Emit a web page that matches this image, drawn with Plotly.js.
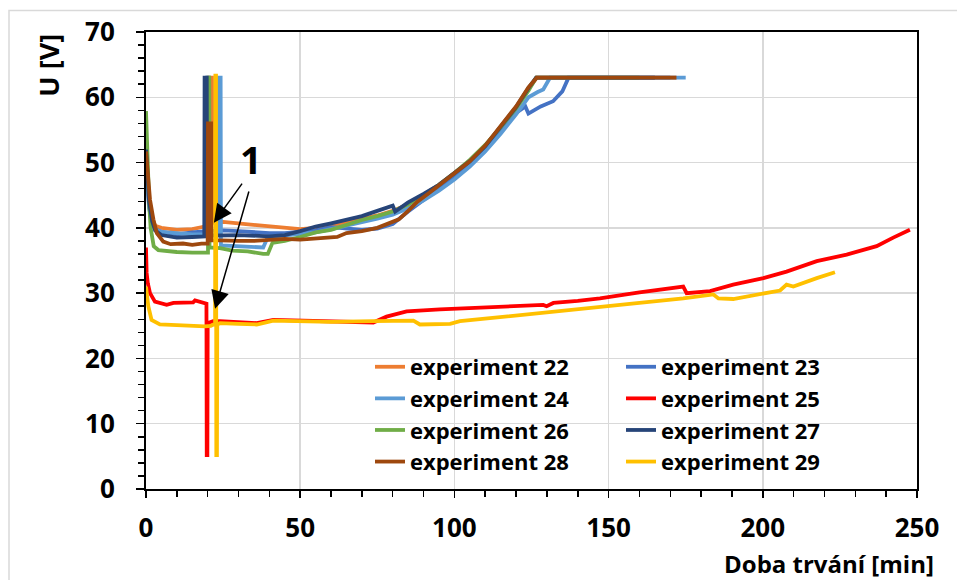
<!DOCTYPE html>
<html>
<head>
<meta charset="utf-8">
<script src="https://cdn.plot.ly/plotly-3.0.1.min.js"></script>
<style>html,body{margin:0;padding:0;background:#fff;}#chart{width:957px;height:580px;}</style>
</head>
<body>
<div id="chart"></div>
<script>
// ---- data ----
const names = ['experiment 22','experiment 23','experiment 24','experiment 25','experiment 26','experiment 27','experiment 28','experiment 29'];
const colors = ['#ED7D31','#4472C4','#5B9BD5','#FF0000','#70AD47','#264478','#9E480E','#FFC000'];

const x22 = [0,0.5,1,2,3,5,10,15,19,20.5,20.6,21.4,21.5,25,30,35,40,45,50,55,60,65,70,75,80,85,90,95,100,105,110,115,120,124,126.7,172];
const y22 = [50.5,46,43.5,41.3,40.3,40,39.7,39.8,40.2,40.5,63,63,40.8,40.9,40.7,40.5,40.2,40.1,39.8,40.0,40.3,40.8,41.3,41.9,42.6,43.6,45.1,46.6,48.4,50.3,52.6,55.3,58.3,61.3,63,63];

const x23 = [0,0.5,1,2,3,5,10,15,19.7,19.8,20.3,20.4,25,30,35,40,45,50,55,60,65,70,75,80,85,90,95,100,105,110,115,120,123,124,128,132,135,137,170];
const y23 = [51,46.5,43.5,41,39.8,39.4,39,39.3,39.5,63,63,39.5,39.6,39.5,39.3,39.2,39.2,39.4,39.6,40.1,39.9,39.7,39.9,40.6,42.5,44.3,46.0,47.8,49.8,52.0,54.8,57.6,58.6,57.5,58.6,59.4,60.9,63,63];

const x24 = [0,0.5,1,2,3,5,10,15,20,23.2,23.3,24.2,24.3,30,35,38,39.5,45,50,55,60,65,70,75,80,85,90,95,100,105,110,115,120,124,127,128.8,131,175];
const y24 = [50,45.5,43,40.8,39.7,39.4,39.2,39.0,39.0,39.0,63,63,37.3,37.2,37.1,37.0,38.6,38.8,39.0,39.3,39.8,40.3,40.8,41.4,42.0,43.0,44.2,45.7,47.4,49.4,51.7,54.4,57.4,60.0,60.8,61.2,63,63];

const x25 = [0,0.2,0.6,1.3,2.9,6.7,8.9,15.3,15.9,19.1,19.6,19.7,19.9,20.0,21.8,24,30,35.9,41.3,50,57.5,65,73.7,78,84.5,95.3,105,117,128.8,129.9,132.1,140,147.2,160,174.2,175.3,182.9,190.4,200.2,207.7,217.5,227.2,236.9,242.3,247.7];
const y25 = [37.0,33.1,31.5,30.0,28.7,28.2,28.5,28.6,28.9,28.5,28.4,5.2,5.2,25.4,25.7,25.7,25.5,25.4,25.9,25.8,25.7,25.6,25.5,26.4,27.2,27.5,27.7,28.0,28.2,28.0,28.5,28.8,29.2,30.1,31.0,30.0,30.3,31.3,32.3,33.3,34.9,35.9,37.2,38.5,39.7];

const x26 = [0,0.5,1,1.5,2.5,4,10,15,20.1,20.2,20.5,20.6,24,28,33,38,39.5,41,45,50,55,60,65,70,75,80,85,90,95,100,105,110,115,120,124,126.5,160];
const y26 = [57.9,50,44,40,37.2,36.6,36.3,36.2,36.2,63,63,37.0,36.9,36.5,36.4,36.0,36.0,37.7,38.0,38.6,39.3,39.7,40.5,41.2,41.8,42.5,43.6,45.0,46.6,48.4,50.4,52.7,55.4,58.3,61.0,63,63];

const x27 = [0,0.5,1,2,3,5,10,15,18.9,19.0,19.7,19.8,24,30,40,45,50,55,60,65,70,75,80,80.8,85,90,95,100,105,110,115,120,124,126.5,165];
const y27 = [52,47,44,41,39.6,38.9,38.5,38.6,38.7,63,63,38.8,38.8,38.9,38.7,38.9,39.5,40.2,40.7,41.2,41.8,42.6,43.4,42.5,43.9,45.2,46.6,48.4,50.2,52.5,55.4,58.5,61.4,63,63];

const x28 = [0,0.75,1.3,2.4,3.5,5.6,8,12,15,18,20,20.1,21.1,21.2,25,30,35,40,45,50,55,60,62,65,70,75,78,82,85,88,92,95,100,105,110,115,120,124,126.7,172];
const y28 = [51.7,47.9,44.3,41.3,39.2,37.9,37.5,37.6,37.4,37.6,37.6,56,56,38.1,38.0,38.0,38.0,38.1,38.3,38.2,38.4,38.6,38.6,39.2,39.5,40.0,40.5,41.3,42.6,44.0,45.4,46.5,48.2,50.2,52.6,55.5,58.6,61.5,63,63];

const x29 = [0,0.75,1.8,4.5,10,14.3,19.1,21,22.4,22.5,22.7,22.8,23.0,23.1,24,30,35.9,41.3,52.1,60,73.7,86.7,88.8,98.6,101.8,110,117,130,147.2,160,174.2,184,185.6,190.4,198,205.6,207.7,209.9,217.5,223.4];
const y29 = [31.0,28.0,25.9,25.2,25.1,25.0,24.9,25.0,25.3,63.3,63.3,5.2,5.2,25.2,25.4,25.3,25.2,25.8,25.7,25.6,25.7,25.8,25.2,25.3,25.7,26.1,26.4,27.1,27.8,28.5,29.2,29.8,29.2,29.1,29.8,30.4,31.3,31.0,32.3,33.2];

const xTitle = 'Doba trvání [min]';
const yTitle = 'U [V]';
const noteLabel = '1';

// ---- build traces ----
const xs = [x22,x23,x24,x25,x26,x27,x28,x29];
const ys = [y22,y23,y24,y25,y26,y27,y28,y29];
const legendOf = ['legend','legend2','legend','legend2','legend','legend2','legend','legend2'];
const FONT = 'Open Sans, Lato, sans-serif';

const traces = xs.map((x, i) => ({
  type: 'scatter', mode: 'lines', x: x, y: ys[i], name: names[i],
  line: {color: colors[i], width: 3.8},
  legend: legendOf[i], hoverinfo: 'skip'
}));

const legendFont = {family: FONT, size: 22, color: '#000', weight: 700};

const layout = {
  width: 957, height: 580,
  margin: {l: 146, r: 40, t: 32, b: 91},
  paper_bgcolor: '#fff', plot_bgcolor: '#fff',
  showlegend: true,
  xaxis: {
    range: [0, 250], tick0: 0, dtick: 50, fixedrange: true,
    showgrid: true, gridcolor: '#D9D9D9', gridwidth: 1.5,
    showline: true, linecolor: '#000', linewidth: 2, mirror: true,
    zeroline: false,
    ticks: 'outside', ticklen: 7, tickwidth: 1.5, tickcolor: '#000',
    minor: {dtick: 10, ticks: 'outside', ticklen: 6, tickwidth: 1.5, tickcolor: '#000', showgrid: false},
    ticklabelstandoff: 8,
    tickfont: {family: FONT, size: 26, color: '#000', weight: 700}
  },
  yaxis: {
    range: [0, 70], tick0: 0, dtick: 10, fixedrange: true,
    showgrid: true, gridcolor: '#D9D9D9', gridwidth: 1.5,
    showline: true, linecolor: '#000', linewidth: 2, mirror: true,
    zeroline: false,
    ticks: 'outside', ticklen: 8, tickwidth: 1.5, tickcolor: '#000',
    minor: {dtick: 2, ticks: 'outside', ticklen: 6, tickwidth: 1.5, tickcolor: '#000', showgrid: false},
    ticklabelstandoff: 16,
    tickfont: {family: FONT, size: 26, color: '#000', weight: 700}
  },
  legend: {
    x: 0.2905, y: 0.313, xanchor: 'left', yanchor: 'top',
    bgcolor: 'rgba(0,0,0,0)', borderwidth: 0, font: legendFont, tracegroupgap: 0
  },
  legend2: {
    x: 0.6161, y: 0.313, xanchor: 'left', yanchor: 'top',
    bgcolor: 'rgba(0,0,0,0)', borderwidth: 0, font: legendFont, tracegroupgap: 0
  },
  shapes: [
    // white box behind the legend (hides gridlines like the original)
    {type: 'rect', xref: 'paper', yref: 'paper', x0: 0.249, x1: 0.888, y0: 0.035, y1: 0.31, fillcolor: '#fff', line: {width: 0}, layer: 'between'},
    // light outer chart frame
    {type: 'rect', xref: 'paper', yref: 'paper', x0: -0.1777, x1: 1.3, y0: -0.4, y1: 1.0471, fillcolor: 'rgba(0,0,0,0)', line: {color: '#D9D9D9', width: 1.5}, layer: 'below'}
  ],
  annotations: [
    {xref: 'paper', yref: 'paper', x: 0.747, y: -0.163, xanchor: 'left', yanchor: 'middle', showarrow: false,
     text: xTitle, font: {family: FONT, size: 24, color: '#000', weight: 700}},
    {xref: 'paper', yref: 'paper', x: -0.127, y: 0.9266, xanchor: 'center', yanchor: 'middle', showarrow: false, textangle: -90,
     text: yTitle, font: {family: FONT, size: 27, color: '#000', weight: 700}},
    {xref: 'x', yref: 'y', x: 34.0, y: 50.6, showarrow: false, text: noteLabel,
     font: {family: FONT, size: 38, color: '#000', weight: 700}},
    {xref: 'x', yref: 'y', x: 22.0, y: 40.8, axref: 'x', ayref: 'y', ax: 31.5, ay: 47.0, text: '', showarrow: true,
     arrowhead: 2, arrowsize: 2.4, arrowwidth: 1.5, arrowcolor: '#000', standoff: 0, startstandoff: 0},
    {xref: 'x', yref: 'y', x: 22.4, y: 27.6, axref: 'x', ayref: 'y', ax: 33.5, ay: 45.8, text: '', showarrow: true,
     arrowhead: 2, arrowsize: 2.4, arrowwidth: 1.5, arrowcolor: '#000', standoff: 0, startstandoff: 0}
  ]
};

Plotly.newPlot('chart', traces, layout, {displayModeBar: false, staticPlot: true});
</script>
</body>
</html>
